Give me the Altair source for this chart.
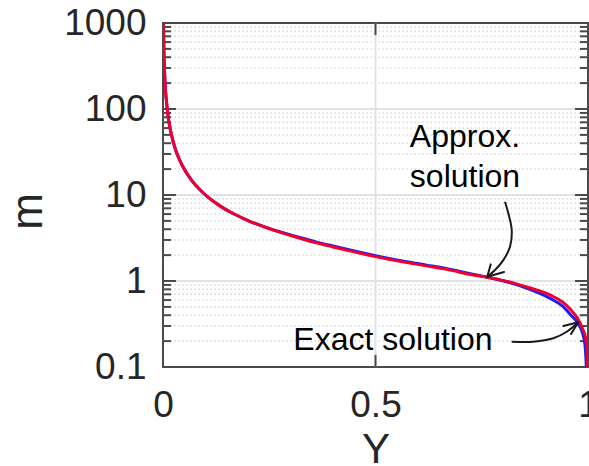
import altair as alt
import pandas as pd

# m versus Y: approximate solution (red) and exact solution (blue)
approx_Y = [0.001, 0.002, 0.004, 0.01, 0.02, 0.031, 0.045, 0.067, 0.087, 0.1, 0.12,
            0.145, 0.165, 0.2, 0.244, 0.28, 0.322, 0.36, 0.4, 0.45, 0.5, 0.56, 0.62,
            0.68, 0.72, 0.765, 0.818, 0.86, 0.913, 0.94, 0.96, 0.975, 0.987, 0.995,
            0.998, 0.9992, 0.9996]
approx_m = [1000, 500, 250, 100, 50, 32, 22.2, 14.9, 11.5, 10, 8.33,
            6.9, 6.09, 5.05, 4.16, 3.63, 3.14, 2.78, 2.49, 2.18, 1.92, 1.68, 1.5,
            1.33, 1.2, 1.1, 0.97, 0.84, 0.68, 0.57, 0.46, 0.37, 0.28, 0.21,
            0.15, 0.1, 0.07]

exact_Y = [0.001, 0.002, 0.004, 0.01, 0.02, 0.031, 0.045, 0.067, 0.087, 0.1, 0.12,
           0.145, 0.165, 0.2, 0.244, 0.28, 0.322, 0.36, 0.4, 0.45, 0.5, 0.56, 0.62,
           0.68, 0.72, 0.765, 0.818, 0.86, 0.913, 0.94, 0.96, 0.975, 0.98, 0.987,
           0.993, 0.995, 0.996, 0.9968]
exact_m = [1000, 500, 250, 100, 50, 32, 22.2, 14.9, 11.5, 10, 8.33,
           6.9, 6.09, 5.05, 4.17, 3.66, 3.2, 2.85, 2.55, 2.23, 1.97, 1.72, 1.53,
           1.35, 1.22, 1.1, 0.95, 0.81, 0.62, 0.51, 0.40, 0.33, 0.30, 0.25,
           0.18, 0.13, 0.1, 0.07]

# axis ticks
x_major = [0, 0.5, 1]
y_major = [0.1, 1, 10, 100, 1000]
y_minor = [k * 10 ** e for e in range(-1, 3) for k in range(2, 10)]

# annotation arrows (data coordinates)
approx_arrow_Y = [0.8047, 0.8125, 0.8205, 0.8165, 0.8007, 0.7812, 0.763]
approx_arrow_m = [8.36, 6.13, 3.92, 2.50, 1.75, 1.34, 1.12]
approx_head_Y = [0.771, 0.8024]
approx_head_m = [1.56, 1.27]

exact_arrow_Y = [0.8205, 0.8713, 0.9184, 0.9499, 0.9772]
exact_arrow_m = [0.197, 0.197, 0.216, 0.257, 0.331]
exact_head_Y = [0.9419, 0.96]
exact_head_m = [0.300, 0.242]

labels_text = ["Approx.", "solution", "Exact solution"]
labels_Y = [0.7106, 0.7106, 0.541]
labels_m = [36.2, 12.5, 0.158]

W, H = 425, 344
FONT = "Liberation Sans"
INK = "#262626"

xs = alt.Scale(domain=[0, 1], nice=False, zero=False)
ys = alt.Scale(type="log", domain=[0.1, 1000], nice=False)

x_axis = alt.Axis(
    values=x_major, format="~g", grid=False, ticks=False, domain=False,
    labelFlush=False, labelOverlap=False, labelFont=FONT, labelFontSize=37,
    labelColor=INK, labelPadding=20, labelBaseline="top",
    title="Y", titleFont=FONT, titleFontSize=42, titleFontWeight="normal",
    titleColor=INK, titleBaseline="alphabetic", titleY=95, titleX=W / 2,
)
y_axis = alt.Axis(
    values=y_major, format="~g", grid=False, ticks=False, domain=False,
    labelFlush=False, labelOverlap=False, labelFont=FONT, labelFontSize=37,
    labelColor=INK, labelPadding=17,
    title="m", titleFont=FONT, titleFontSize=44, titleFontWeight="normal",
    titleColor=INK, titleAngle=-90, titleBaseline="alphabetic", titleAlign="center",
    titleX=-122, titleY=188,
)


def X(field="Y:Q"):
    return alt.X(field, scale=xs, axis=x_axis)


def Yc(field="m:Q"):
    return alt.Y(field, scale=ys, axis=y_axis)


curves = pd.DataFrame({
    "Y": exact_Y + approx_Y,
    "m": exact_m + approx_m,
    "series": ["Exact solution"] * len(exact_Y) + ["Approx. solution"] * len(approx_Y),
    "order": list(range(len(exact_Y))) + list(range(len(approx_Y))),
})

minor_df = pd.DataFrame({"m": y_minor})
major_df = pd.DataFrame({"m": y_major})
xgrid_df = pd.DataFrame({"Y": [0.5]})

minor_grid = alt.Chart(minor_df).mark_rule(
    color="#dadada", strokeWidth=1.5, strokeDash=[1.5, 2.5]
).encode(y=Yc())

major_grid = alt.Chart(pd.DataFrame({"m": [1, 10, 100]})).mark_rule(
    color="#e2e2e2", strokeWidth=2
).encode(y=Yc())

x_grid = alt.Chart(xgrid_df).mark_rule(color="#e2e2e2", strokeWidth=2).encode(x=X())

tick_color = "#4a4a4a"


def ytick(df, x0, x1):
    return alt.Chart(df).mark_rule(color=tick_color, strokeWidth=2).encode(
        y=Yc(), x=alt.value(x0), x2=alt.value(x1)
    )


def xtick(y0, y1):
    return alt.Chart(xgrid_df).mark_rule(color=tick_color, strokeWidth=2).encode(
        x=X(), y=alt.value(y0), y2=alt.value(y1)
    )


ticks = [
    ytick(major_df, 0, 13), ytick(minor_df, 0, 8),
    ytick(major_df, W - 13, W), ytick(minor_df, W - 8, W),
    xtick(H - 12, H), xtick(0, 12),
]

lines = alt.Chart(curves).mark_line(strokeWidth=3, clip=True, interpolate="monotone").encode(
    x=X(),
    y=Yc(),
    color=alt.Color("series:N", scale=alt.Scale(
        domain=["Exact solution", "Approx. solution"], range=["#1a1aff", "#f0002a"]
    ), legend=None),
    order=alt.Order("order:Q"),
    detail="series:N",
)

approx_arrow = pd.DataFrame({"Y": approx_arrow_Y, "m": approx_arrow_m,
                             "i": list(range(len(approx_arrow_Y))), "g": "a"})
exact_arrow = pd.DataFrame({"Y": exact_arrow_Y, "m": exact_arrow_m,
                            "i": list(range(len(exact_arrow_Y))), "g": "e"})
arrows = alt.Chart(pd.concat([approx_arrow, exact_arrow])).mark_line(
    color="#1a1a1a", strokeWidth=2, interpolate="catmull-rom"
).encode(x=X(), y=Yc(), order="i:Q", detail="g:N")

heads = pd.DataFrame({
    "Y": [approx_arrow_Y[-1]] * 2 + [exact_arrow_Y[-1]] * 2,
    "m": [approx_arrow_m[-1]] * 2 + [exact_arrow_m[-1]] * 2,
    "Y2": approx_head_Y + exact_head_Y,
    "m2": approx_head_m + exact_head_m,
})
arrow_heads = alt.Chart(heads).mark_rule(color="#1a1a1a", strokeWidth=2, strokeCap="round").encode(
    x=X(), x2="Y2:Q", y=Yc(), y2="m2:Q",
)

labels = alt.Chart(pd.DataFrame({"t": labels_text, "Y": labels_Y, "m": labels_m})).mark_text(
    font=FONT, fontSize=32, color="black", align="center", baseline="alphabetic"
).encode(x=X(), y=Yc(), text="t:N")

chart = alt.layer(
    minor_grid, major_grid, x_grid, *ticks, lines, arrows, arrow_heads, labels
).properties(
    width=W, height=H,
    autosize=alt.AutoSizeParams(type="none"),
    padding={"left": 163, "top": 23, "right": 1, "bottom": 99},
    background="white",
).configure_view(
    stroke="#4a4a4a", strokeWidth=2
)

chart.save("out.html", embed_options={"renderer": "svg", "actions": False})
